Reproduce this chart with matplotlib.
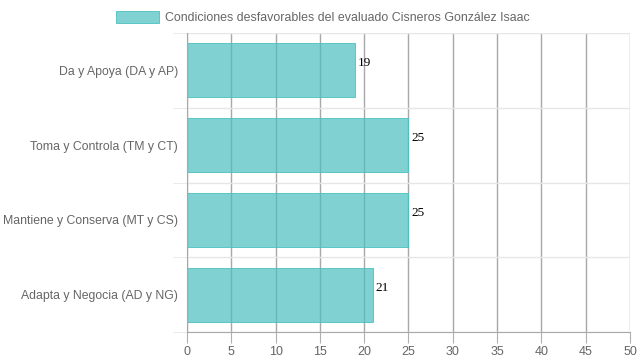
import numpy as np
import matplotlib.pyplot as plt

categories = ["Da y Apoya (DA y AP)", "Toma y Controla (TM y CT)",
              "Mantiene y Conserva (MT y CS)", "Adapta y Negocia (AD y NG)"]
values = [19, 25, 25, 21]
series_label = "Condiciones desfavorables del evaluado Cisneros González Isaac"
xticks = list(range(0, 51, 5))

plt.rcParams["font.family"] = ["Liberation Sans", "DejaVu Sans"]

fill = (75 / 255, 192 / 255, 192 / 255, 0.7)
edge = (75 / 255, 192 / 255, 192 / 255, 1.0)

fig = plt.figure(figsize=(6.39, 3.6), dpi=100)
ax = fig.add_axes([0.2926, 0.0778, 0.6933, 0.8305])

y = np.arange(len(categories))
bars = ax.barh(y, values, height=0.72, color=fill, edgecolor=edge, linewidth=0.6,
               label=series_label, zorder=2)

for yi, v in zip(y, values):
    ax.annotate(str(v), (v, yi), xytext=(2, 5), textcoords="offset points",
                ha="left", va="center", fontsize=9.5, family="Liberation Serif",
                color="black", zorder=3)

ax.set_xlim(0, 50)
ax.set_ylim(len(categories) - 0.5, -0.5)
ax.set_xticks(xticks)
ax.set_yticks(y)
ax.set_yticklabels(categories)
ax.set_yticks(np.arange(-0.5, len(categories)), minor=True)

ax.tick_params(axis="x", length=8, color="#b0b0b0", labelsize=9, labelcolor="#666666", pad=2)
ax.tick_params(axis="y", which="major", length=0, labelsize=8.8, labelcolor="#666666", pad=6.5)
ax.tick_params(axis="y", which="minor", length=10, color="#e6e6e6")

ax.grid(axis="x", color="#a8a8a8", linewidth=1, zorder=1)
ax.grid(axis="y", which="minor", color="#e6e6e6", linewidth=1, zorder=1)
ax.set_axisbelow(True)

for s in ["top", "right"]:
    ax.spines[s].set_visible(False)
ax.spines["left"].set_color("#a8a8a8")
ax.spines["bottom"].set_color("#a8a8a8")

fig.legend(handles=[bars], labels=[series_label], loc="upper center",
           bbox_to_anchor=(0.505, 1.0), frameon=False, fontsize=8.9,
           handlelength=3.5, handleheight=1.1, handletextpad=0.5,
           labelcolor="#666666")

fig.savefig("out.png", dpi=100)
